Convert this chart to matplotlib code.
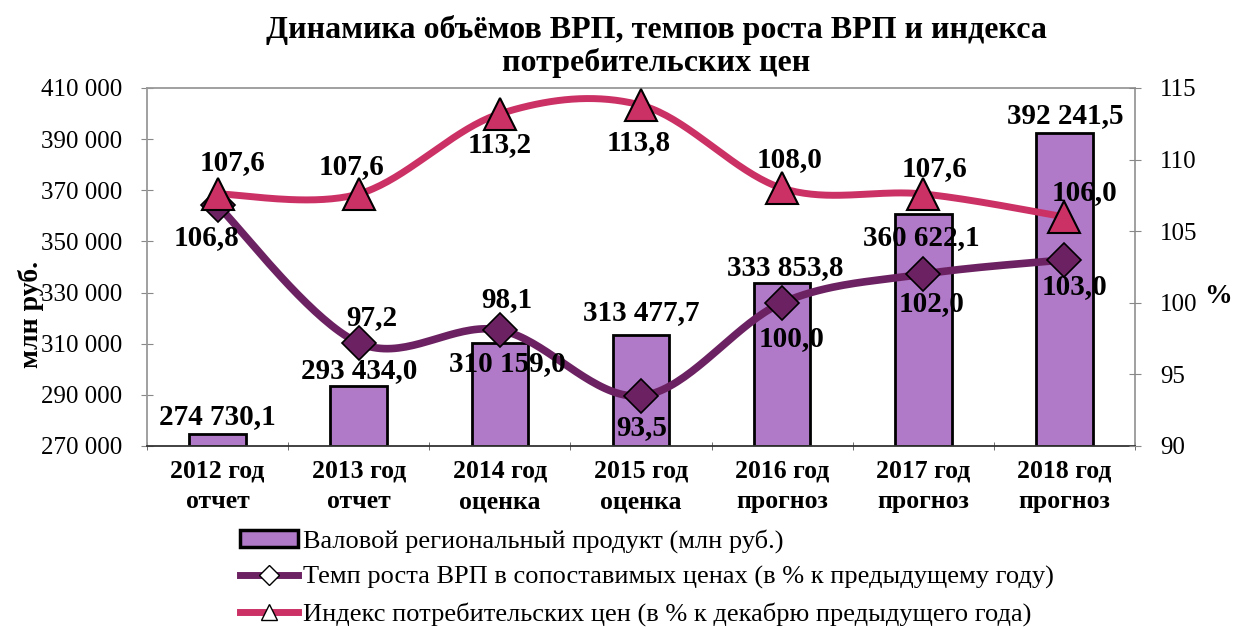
import numpy as np
import matplotlib
matplotlib.use("Agg")
import matplotlib.pyplot as plt
from matplotlib.lines import Line2D
from matplotlib.patches import Patch

categories = ["2012 год\nотчет", "2013 год\nотчет", "2014 год\nоценка", "2015 год\nоценка",
              "2016 год\nпрогноз", "2017 год\nпрогноз", "2018 год\nпрогноз"]
grp = [274730.1, 293434.0, 310159.0, 313477.7, 333853.8, 360622.1, 392241.5]
grp_labels = ["274 730,1", "293 434,0", "310 159,0", "313 477,7", "333 853,8", "360 622,1", "392 241,5"]
growth = [106.8, 97.2, 98.1, 93.5, 100.0, 102.0, 103.0]
cpi = [107.6, 107.6, 113.2, 113.8, 108.0, 107.6, 106.0]

# label offsets in pixels (dx, dy)
grp_off = [(0, 17), (0, 16), (8, -20), (0, 22), (3, 15), (-2, -23), (1, 18)]
growth_off = [(-11, -32), (13, 25), (7, 30), (1, -32), (9, -36), (8, -29), (10, -27)]
cpi_off = [(15, 31), (-7, 27), (0, -31), (-2, -37), (7, 29), (11, 25), (20, 24)]

BAR = "#b07ac8"
PURP = "#6c2262"
PINK = "#cc3166"
SERIF = "Liberation Serif"

def smooth(xs, ys, n=40):
    xs = np.asarray(xs, float); ys = np.asarray(ys, float)
    P = np.column_stack([xs, ys])
    out = []
    for i in range(len(P) - 1):
        p0 = P[i - 1] if i > 0 else P[i]
        p1 = P[i]; p2 = P[i + 1]
        p3 = P[i + 2] if i + 2 < len(P) else P[i + 1]
        c1 = p1 + (p2 - p0) / 6.0
        c2 = p2 - (p3 - p1) / 6.0
        t = np.linspace(0, 1, n)[:, None]
        seg = (1 - t) ** 3 * p1 + 3 * (1 - t) ** 2 * t * c1 + 3 * (1 - t) * t ** 2 * c2 + t ** 3 * p2
        out.append(seg if i == 0 else seg[1:])
    S = np.vstack(out)
    return S[:, 0], S[:, 1]

fig = plt.figure(figsize=(12.33, 6.27), dpi=100)
ax = fig.add_axes([147/1233, 1 - 446/627, (1135-147)/1233, (446-88)/627])
x = np.arange(len(categories))

ax.bar(x, np.array(grp) - 270000, bottom=270000, width=0.4, color=BAR, edgecolor="black", linewidth=2, zorder=2)
ax.set_xlim(-0.5, 6.5)
ax.set_ylim(270000, 410000)
ax.set_yticks(np.arange(270000, 410001, 20000))
ax.set_yticklabels([f"{int(v):,}".replace(",", " ") for v in np.arange(270000, 410001, 20000)],
                   fontfamily=SERIF, fontsize=18)
ax.set_xticks(x)
ax.set_xticklabels(categories, fontfamily=SERIF, fontsize=18.5, fontweight="bold", linespacing=1.4)
ax.set_xticks(np.arange(-0.5, 7, 1), minor=True)
ax.tick_params(axis="x", which="major", length=0, pad=10)
ax.tick_params(axis="x", which="minor", length=6, direction="inout", color="#555555")
ax.tick_params(axis="y", length=8, direction="inout", color="#888888", pad=14)
for s in ["left", "top", "right"]:
    ax.spines[s].set_color("#999999")
    ax.spines[s].set_linewidth(1.3)
ax.spines["bottom"].set_color("#333333")
ax.spines["bottom"].set_linewidth(1.3)

fig.text(31/1233, 1 - 314/627, "млн руб.", fontfamily=SERIF, fontsize=20, fontweight="bold",
         rotation=90, ha="center", va="center")

ax2 = ax.twinx()
ax2.set_ylim(90, 115)
ax2.set_yticks(np.arange(90, 116, 5))
ax2.set_yticklabels([str(v) for v in range(90, 116, 5)], fontfamily=SERIF, fontsize=18)
ax2.tick_params(axis="y", length=8, direction="inout", color="#888888", pad=14)
for s in ["left", "top", "right", "bottom"]:
    ax2.spines[s].set_visible(False)

sx, sy = smooth(x, growth)
ax2.plot(sx, sy, color=PURP, lw=5.5, solid_capstyle="round", zorder=3)
ax2.plot(x, growth, ls="none", marker="D", ms=17, mfc=PURP, mec="black", mew=1.2, zorder=4)
sx, sy = smooth(x, cpi)
ax2.plot(sx, sy, color=PINK, lw=5, solid_capstyle="round", zorder=3)
ax2.plot(x, cpi, ls="none", marker="^", ms=23, mfc=PINK, mec="black", mew=1.5, zorder=4)

lab_kw = dict(fontfamily=SERIF, fontsize=21, fontweight="bold", ha="center", va="center",
              textcoords="offset pixels", zorder=6)
for i in range(len(x)):
    ax2.annotate(grp_labels[i], (x[i], grp[i]), xycoords=ax.transData, xytext=grp_off[i], **lab_kw)
    ax2.annotate(f"{growth[i]:.1f}".replace(".", ","), (x[i], growth[i]), xytext=growth_off[i], **lab_kw)
    ax2.annotate(f"{cpi[i]:.1f}".replace(".", ","), (x[i], cpi[i]), xytext=cpi_off[i], **lab_kw)

fig.text(1218/1233, 1 - 297/627, "%", fontfamily=SERIF, fontsize=20, fontweight="bold", ha="center", va="center")

fig.text(656/1233, 1 - 30/627, "Динамика объёмов ВРП, темпов роста ВРП и индекса",
         fontfamily=SERIF, fontsize=23, fontweight="bold", ha="center", va="center")
fig.text(656/1233, 1 - 63/627, "потребительских цен",
         fontfamily=SERIF, fontsize=23, fontweight="bold", ha="center", va="center")

handles = [
    Patch(facecolor=BAR, edgecolor="black", linewidth=2.5),
    Line2D([0], [0], color=PURP, lw=5, marker="D", ms=10, mfc="white", mec="black"),
    Line2D([0], [0], color=PINK, lw=5, marker="^", ms=12, mfc="white", mec="black"),
]
labels = ["Валовой региональный продукт (млн руб.)",
          "Темп роста ВРП в сопоставимых ценах (в % к предыдущему году)",
          "Индекс потребительских цен (в % к декабрю предыдущего года)"]
fig.legend(handles, labels, loc="upper left", bbox_to_anchor=(240/1233, 1 - 529/627),
           frameon=False, prop={"family": SERIF, "size": 19}, handlelength=2.2, handleheight=0.6,
           handletextpad=0.2, labelspacing=0.5, borderpad=0, borderaxespad=0)

fig.savefig("out.png", dpi=100)
